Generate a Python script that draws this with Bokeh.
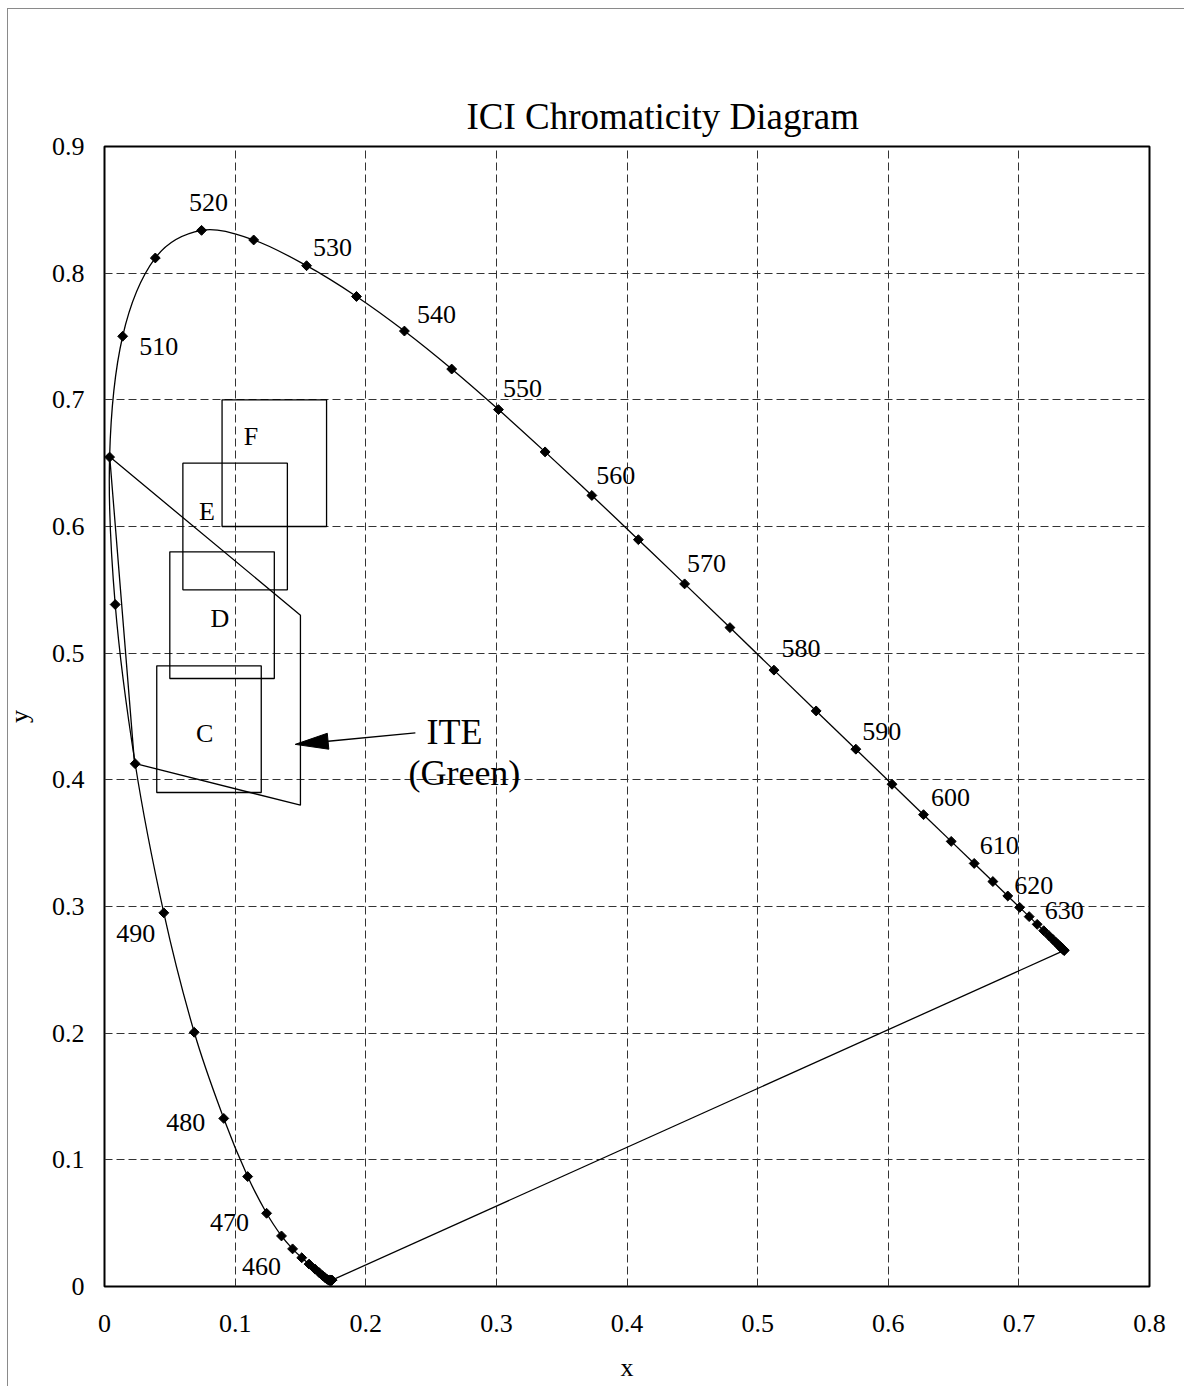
import numpy as np
from bokeh.plotting import figure
from bokeh.models import Range1d, FixedTicker, NumeralTickFormatter, Title
from bokeh.core.properties import value
from bokeh.embed import file_html
from bokeh.resources import INLINE

# ---------------- data ----------------
wavelength = list(range(380, 705, 5))
cie_x = [0.1741, 0.1740, 0.1738, 0.1736, 0.1733, 0.1730, 0.1726, 0.1721, 0.1714, 0.1703,
         0.1689, 0.1669, 0.1644, 0.1611, 0.1566, 0.1510, 0.1440, 0.1355, 0.1241, 0.1096,
         0.0913, 0.0687, 0.0454, 0.0235, 0.0082, 0.0039, 0.0139, 0.0389, 0.0743, 0.1142,
         0.1547, 0.1929, 0.2296, 0.2658, 0.3016, 0.3373, 0.3731, 0.4087, 0.4441, 0.4788,
         0.5125, 0.5448, 0.5752, 0.6029, 0.6270, 0.6482, 0.6658, 0.6801, 0.6915, 0.7006,
         0.7079, 0.7140, 0.7190, 0.7230, 0.7260, 0.7283, 0.7300, 0.7311, 0.7320, 0.7327,
         0.7334, 0.7340, 0.7344, 0.7346, 0.7347]
cie_y = [0.0050, 0.0050, 0.0049, 0.0049, 0.0048, 0.0048, 0.0048, 0.0048, 0.0051, 0.0058,
         0.0069, 0.0086, 0.0109, 0.0138, 0.0177, 0.0227, 0.0297, 0.0399, 0.0578, 0.0868,
         0.1327, 0.2007, 0.2950, 0.4127, 0.5384, 0.6548, 0.7502, 0.8120, 0.8338, 0.8262,
         0.8059, 0.7816, 0.7543, 0.7243, 0.6923, 0.6589, 0.6245, 0.5896, 0.5547, 0.5202,
         0.4866, 0.4544, 0.4242, 0.3965, 0.3725, 0.3514, 0.3340, 0.3197, 0.3083, 0.2993,
         0.2920, 0.2859, 0.2809, 0.2770, 0.2740, 0.2717, 0.2700, 0.2689, 0.2680, 0.2673,
         0.2666, 0.2660, 0.2656, 0.2654, 0.2653]

label_wl = [460, 470, 480, 490, 500, 510, 520, 530, 540, 550, 560, 570, 580, 590, 600, 610, 620, 630]

box_names = ["C", "D", "E", "F"]
box_left = [0.04, 0.05, 0.06, 0.09]
box_right = [0.12, 0.13, 0.14, 0.17]
box_bottom = [0.39, 0.48, 0.55, 0.60]
box_top = [0.49, 0.58, 0.65, 0.70]

ite_x = [0.004, 0.15, 0.15, 0.023, 0.004]
ite_y = [0.655, 0.53, 0.38, 0.413, 0.655]
ite_text = ["ITE", "(Green)"]
arrow_tail = (0.238, 0.437)
arrow_tip = (0.146, 0.428)

x_ticks = [0, 0.1, 0.2, 0.3, 0.4, 0.5, 0.6, 0.7, 0.8]
y_ticks = [0, 0.1, 0.2, 0.3, 0.4, 0.5, 0.6, 0.7, 0.8, 0.9]

title_text = "ICI Chromaticity Diagram"
x_label_text = "x"
y_label_text = "y"

# ---------------- styling / positions ----------------
FONT = "Liberation Serif"
XMAX, YMAX = 0.8, 0.9
FW, FH = 1045, 1140
sx, sy = FW / XMAX, FH / YMAX          # pixels per data unit
label_dx = [-31, -37, -38, -28, -40, 36, 7, 26, 32, 24, 24, 22, 27, 26, 27, 25, 26, 35]
label_dy = [18, 9, 4, 21, 0, 10, -28, -18, -17, -21, -20, -20, -22, -18, -17, -18, -10, -6]
box_lab_dx = [48, 50, 24, 29]
box_lab_dy = [68, 67, 48, 37]

p = figure(width=104 + FW + 35, height=146 + FH + 100,
           x_range=Range1d(0, XMAX), y_range=Range1d(0, YMAX),
           output_backend="svg", toolbar_location=None,
           min_border_left=104, min_border_right=35, min_border_top=146, min_border_bottom=100,
           background_fill_color="white", border_fill_alpha=0)
# chart-area border (grey line at left and top, as in the reference)
p.styles = {
    "background": ("linear-gradient(#8a8a8a, #8a8a8a) 7px 8px / 1px 100% no-repeat, "
                   "linear-gradient(#8a8a8a, #8a8a8a) 7px 8px / 100% 1px no-repeat, white"),
}

p.add_layout(Title(text=title_text, align="left", offset=362,
                   text_font=FONT, text_font_size="37px", text_font_style="normal",
                   text_color="black", standoff=20), "above")

p.outline_line_color = "black"
p.outline_line_width = 2

for ax, ticks in ((p.xaxis[0], x_ticks), (p.yaxis[0], y_ticks)):
    ax.ticker = FixedTicker(ticks=ticks)
    ax.formatter = NumeralTickFormatter(format="0.[0]")
    ax.major_label_text_font = FONT
    ax.major_label_text_font_size = "26px"
    ax.major_label_text_color = "black"
    ax.axis_label_text_font = FONT
    ax.axis_label_text_font_size = "26px"
    ax.axis_label_text_font_style = "normal"
    ax.axis_label_text_color = "black"
    ax.axis_line_color = None
    ax.major_tick_line_color = None
    ax.minor_tick_line_color = None
    ax.major_tick_out = 0
    ax.major_tick_in = 0
p.xaxis.axis_label = x_label_text
p.yaxis.axis_label = y_label_text
p.xaxis.major_label_standoff = 28
p.yaxis.major_label_standoff = 20
p.xaxis.axis_label_standoff = 18
p.yaxis.axis_label_standoff = 15

p.xgrid.ticker = FixedTicker(ticks=x_ticks)
p.ygrid.ticker = FixedTicker(ticks=y_ticks)
for g in (p.xgrid[0], p.ygrid[0]):
    g.grid_line_color = "#333333"
    g.grid_line_dash = "8 4"
    g.grid_line_width = 1

# spectral locus drawn as a smoothed curve (Bezier through the data points)
n = len(cie_x)
X, Y = np.array(cie_x), np.array(cie_y)
Xm = np.concatenate([[X[0]], X, [X[-1]]])
Ym = np.concatenate([[Y[0]], Y, [Y[-1]]])
i = np.arange(n - 1) + 1
p.bezier(x0=Xm[i], y0=Ym[i], x1=Xm[i + 1], y1=Ym[i + 1],
         cx0=Xm[i] + (Xm[i + 1] - Xm[i - 1]) / 6, cy0=Ym[i] + (Ym[i + 1] - Ym[i - 1]) / 6,
         cx1=Xm[i + 1] - (Xm[i + 2] - Xm[i]) / 6, cy1=Ym[i + 1] - (Ym[i + 2] - Ym[i]) / 6,
         line_color="black", line_width=1.3)
# line of purples
p.line([cie_x[-1], cie_x[0]], [cie_y[-1], cie_y[0]], line_color="black", line_width=1.3)
p.scatter(cie_x, cie_y, marker="square", angle=np.pi / 4, size=7,
          fill_color="black", line_color="black")

# wavelength labels
idx = [wavelength.index(w) for w in label_wl]
p.text(x=[cie_x[k] for k in idx], y=[cie_y[k] for k in idx], text=[str(w) for w in label_wl],
       x_offset=label_dx, y_offset=label_dy, text_align="center", text_baseline="middle",
       text_font=value(FONT), text_font_size="26px", text_color="black")

# boxes
p.quad(left=box_left, right=box_right, bottom=box_bottom, top=box_top,
       fill_color=None, line_color="black", line_width=1.3)
p.text(x=box_left, y=box_top, text=box_names, x_offset=box_lab_dx, y_offset=box_lab_dy,
       text_align="center", text_baseline="middle",
       text_font=value(FONT), text_font_size="26px", text_color="black")

# ITE polygon
p.line(ite_x, ite_y, line_color="black", line_width=1.3)

# arrow with elongated head
dxp = (arrow_tip[0] - arrow_tail[0]) * sx
dyp = (arrow_tip[1] - arrow_tail[1]) * sy
L = np.hypot(dxp, dyp)
ux, uy = dxp / L, dyp / L
head_len, head_half = 33, 8
bx, by = -ux * head_len, -uy * head_len
nx, ny = -uy, ux
tri_x = [arrow_tip[0], arrow_tip[0] + (bx + nx * head_half) / sx, arrow_tip[0] + (bx - nx * head_half) / sx]
tri_y = [arrow_tip[1], arrow_tip[1] + (by + ny * head_half) / sy, arrow_tip[1] + (by - ny * head_half) / sy]
p.line([arrow_tail[0], arrow_tip[0] + bx / sx], [arrow_tail[1], arrow_tip[1] + by / sy],
       line_color="black", line_width=1.3)
p.patch(tri_x, tri_y, fill_color="black", line_color="black", line_width=1)

p.text(x=[arrow_tail[0], arrow_tail[0]], y=[arrow_tail[1], arrow_tail[1]], text=ite_text,
       x_offset=[39, 49], y_offset=[-1, 40], text_align="center", text_baseline="alphabetic",
       text_font=value(FONT), text_font_size="36px", text_color="black")

open("out.html", "w").write(file_html(p, INLINE))
